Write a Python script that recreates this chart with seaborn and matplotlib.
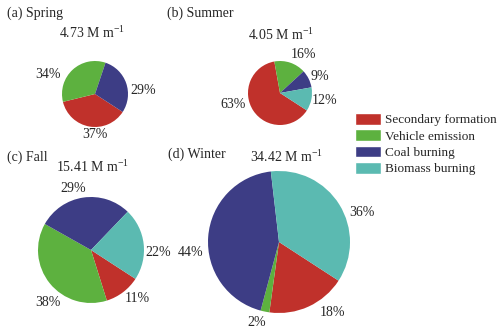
import matplotlib
matplotlib.use("Agg")
import matplotlib.pyplot as plt
from matplotlib.patches import Patch
import seaborn as sns

# source shares (%), slice order: secondary, vehicle, coal, biomass
sources = ["Secondary formation", "Vehicle emission", "Coal burning", "Biomass burning"]
seasons = ["(a) Spring", "(b) Summer", "(c) Fall", "(d) Winter"]
totals = ["4.73", "4.05", "15.41", "34.42"]
spring = [37, 34, 29, 0]
summer = [63, 16, 9, 12]
fall = [11, 38, 29, 22]
winter = [18, 2, 44, 36]
shares = [spring, summer, fall, winter]

sns.set_theme(style="white")
plt.rcParams["font.family"] = ["Liberation Serif", "DejaVu Serif"]
plt.rcParams["mathtext.default"] = "regular"

colors = sns.color_palette(["#c0312b", "#5db13f", "#3d3d85", "#5bbab1"])

# layout in pixels (y down): pie centre, radius, title pos, total pos, label offsets
W, H = 500, 330
layout = [
    dict(c=(95, 94), r=33, title=(7, 13), tot=(92, 33),
         lab=[(0, 41), (-47, -19), (48, -4), None]),
    dict(c=(280, 93), r=32, title=(167, 13), tot=(281, 35),
         lab=[(-47, 11), (23, -38), (40, -16), (45, 7)]),
    dict(c=(91, 250), r=53, title=(7, 157), tot=(93, 167),
         lab=[(46, 48), (-43, 52), (-18, -62), (67, 2)]),
    dict(c=(279, 242), r=71, title=(168, 154), tot=(287, 157),
         lab=[(53, 70), (-22, 80), (-88, 10), (83, -30)]),
]

fig = plt.figure(figsize=(5, 3.3), dpi=100)
ax = fig.add_axes([0, 0, 1, 1])
fs = 10

for name, tot, vals, lo in zip(seasons, totals, shares, layout):
    cx, cy = lo["c"]
    ax.pie(vals, colors=colors, startangle=-33, counterclock=False,
           center=(cx, H - cy), radius=lo["r"], frame=True,
           wedgeprops=dict(linewidth=0))
    ax.text(lo["title"][0], H - lo["title"][1], name, ha="left", va="center", fontsize=fs)
    ax.text(lo["tot"][0], H - lo["tot"][1], tot + " M m$^{-1}$", ha="center", va="center", fontsize=fs)
    for v, off in zip(vals, lo["lab"]):
        if off is None:
            continue
        ax.text(cx + off[0], H - (cy + off[1]), f"{v}%", ha="center", va="center", fontsize=fs)

handles = [Patch(facecolor=c, label=s) for c, s in zip(colors, sources)]
ax.legend(handles=handles, loc="upper left", bbox_to_anchor=(355 / W, 1 - 113 / H),
          frameon=False, borderpad=0, fontsize=9.5, handlelength=2.0, handleheight=1.0,
          labelspacing=0.22, handletextpad=0.3, borderaxespad=0)

ax.set_xlim(0, W)
ax.set_ylim(0, H)
ax.set_aspect("equal")
ax.axis("off")
fig.savefig("out.png", dpi=100)
